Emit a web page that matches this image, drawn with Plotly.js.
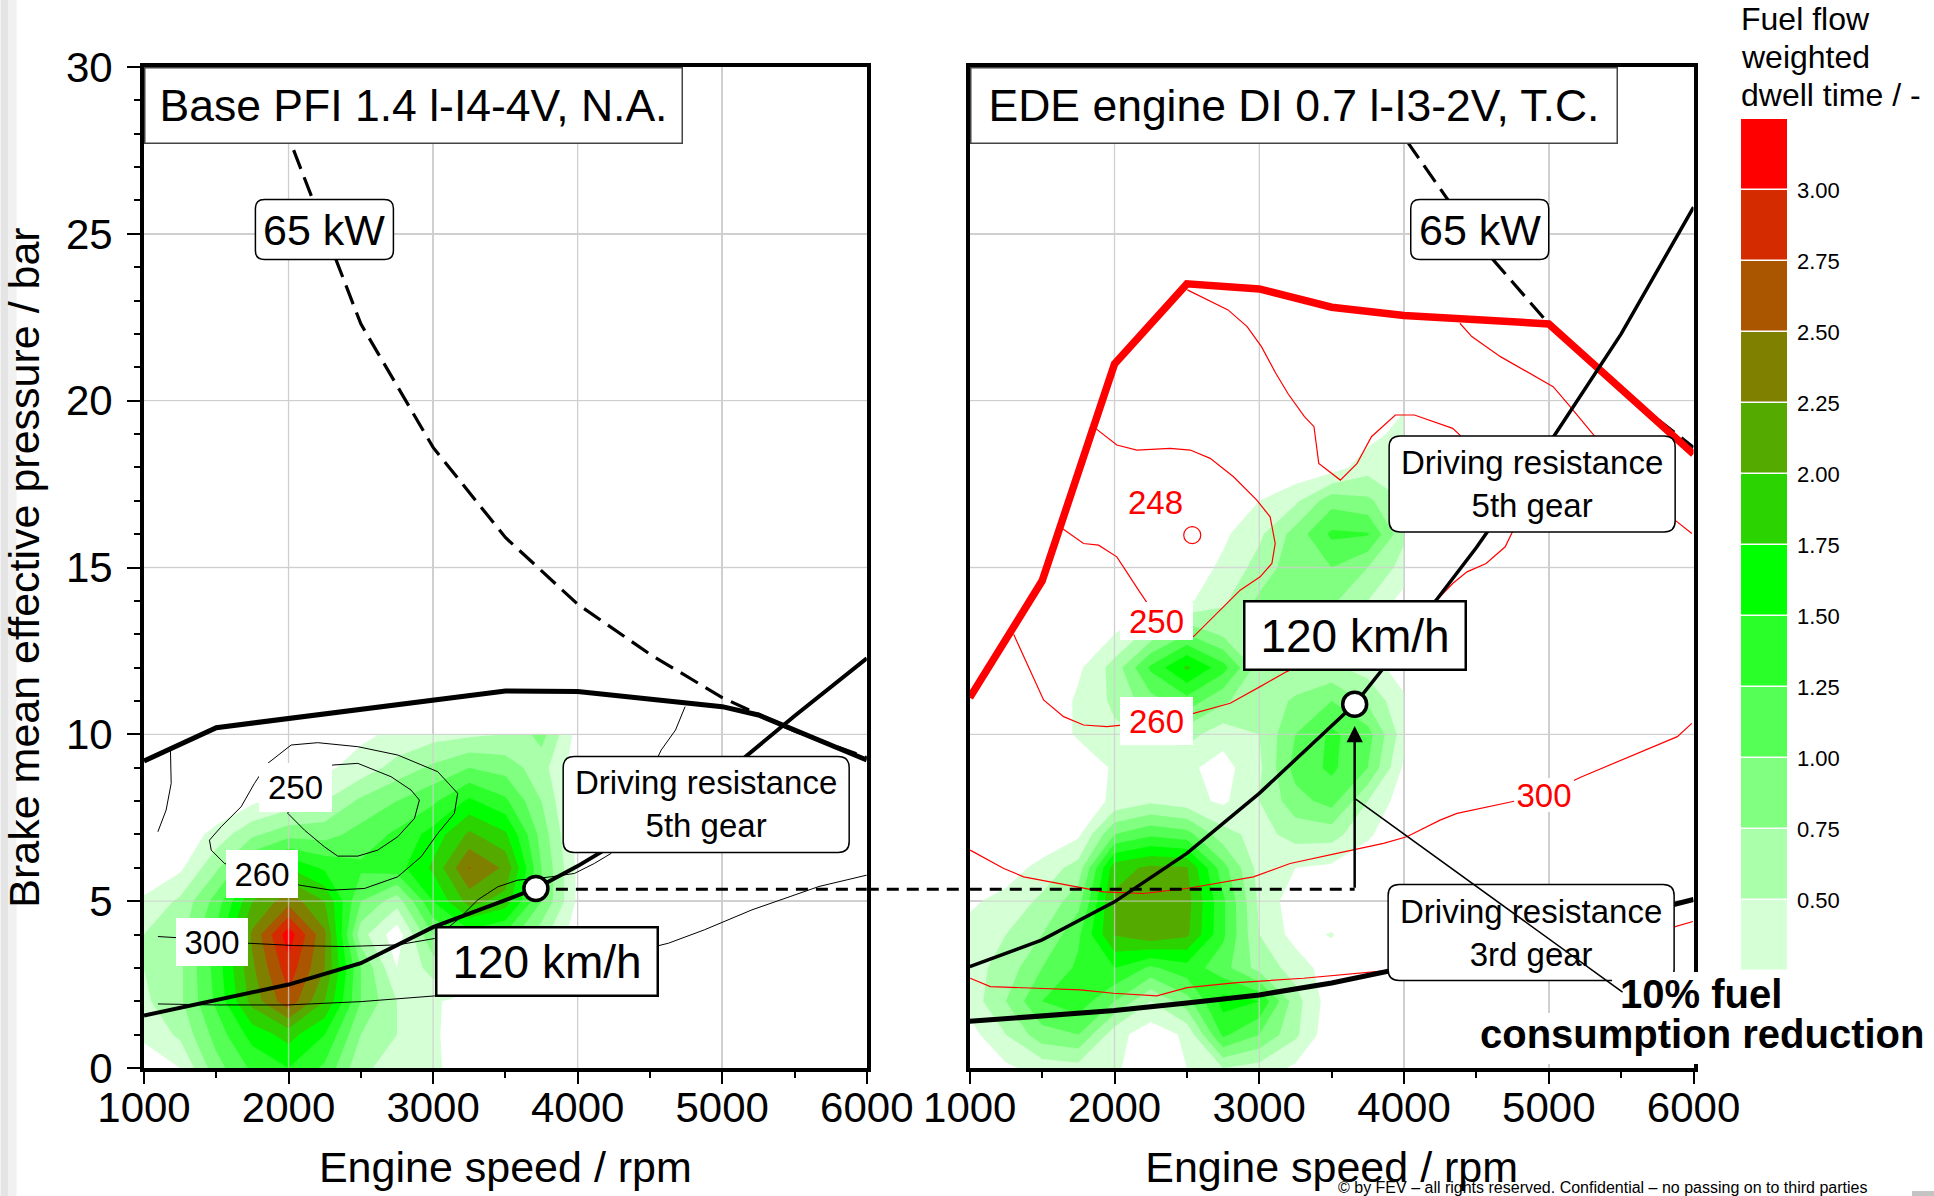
<!DOCTYPE html>
<html><head><meta charset="utf-8">
<script src="https://cdn.plot.ly/plotly-3.0.1.min.js"></script>
<style>html,body{margin:0;padding:0;background:#fff}#chart{width:1934px;height:1196px}</style>
</head><body><div id="chart"></div>
<script>
// ================= DATA =================
const SPEED_GRID = [1000,1250,1500,1750,2000,2250,2500,2750,3000,3250,3500,3750,4000];
const BASE_LOAD_GRID = [0,1,2,3,4,5,6,7,8,9,10];
const BASE_DWELL = [
  [0.1,0.25,0.9,1.3,1.5,1.2,0.55,0.4,0.3,0.1,0,0,0],
  [0.3,0.55,1.1,1.6,1.85,1.5,0.75,0.5,0.3,0.05,0,0,0],
  [0.45,0.7,1.3,2.1,2.68,2.0,1.0,0.5,0.3,0.1,0,0,0],
  [0.5,0.7,1.35,2.2,2.9,2.25,1.0,0.25,0.6,0.7,0.5,0.2,0],
  [0.5,0.65,1.3,2.3,3.15,2.3,0.6,0.1,1.0,1.4,1.2,0.6,0.1],
  [0.3,0.55,1.1,2.0,2.4,2.0,1.0,0.6,1.5,2.1,1.9,1.0,0.2],
  [0,0.2,0.7,1.3,1.75,1.45,1.3,1.4,1.8,2.52,2.2,1.0,0.2],
  [0,0.05,0.35,0.7,0.9,0.9,1.1,1.3,1.6,2.05,1.8,0.9,0.15],
  [0,0,0,0.2,0.35,0.5,0.8,1.0,1.2,1.55,1.3,0.75,0.1],
  [0,0,0,0,0.1,0.2,0.35,0.6,0.8,1.0,0.9,0.6,0.1],
  [0,0,0,0,0.05,0.15,0.2,0.3,0.4,0.45,0.5,0.85,0.15]
];
const EDE_LOAD_GRID = [0,1,2,3,4,5,6,7,8,9,10,11,12,13,14,15,16,17,18,19,20];
const EDE_DWELL = [
  [0,0.2,0.35,0.4,0.3,0.05,0.25,0.5,0.4,0.2,0,0,0],
  [0.15,0.5,0.9,1.0,0.35,0.1,0.3,1.3,1.0,0.55,0.05,0,0],
  [0.35,0.75,1.25,1.4,1.0,0.5,0.9,1.6,1.5,0.6,0.1,0,0],
  [0.4,0.6,1.0,1.3,1.5,1.2,1.4,1.1,0.65,0.4,0.1,0,0],
  [0.35,0.5,0.75,1.2,2.02,2.2,2.05,1.3,0.5,0.15,0.27,0,0],
  [0.2,0.35,0.55,0.9,2.05,2.2,2.1,1.3,0.45,0.1,0,0,0],
  [0,0.1,0.35,0.6,1.9,2.05,2.02,1.1,0.4,0.25,0.2,0.05,0],
  [0,0,0,0.2,1.0,1.2,1.1,0.6,0.4,0.6,0.6,0.3,0],
  [0,0,0,0.1,0.3,0.45,0.35,0.2,0.5,0.9,1.1,0.5,0.1],
  [0,0,0,0,0.3,0.35,0.3,0.15,0.45,1.1,1.3,1.0,0.2],
  [0,0,0,0.3,0.45,0.55,0.6,0.35,0.5,1.0,1.3,1.1,0.35],
  [0,0,0,0.3,0.55,0.9,1.15,0.8,0.55,0.8,1.0,0.7,0.3],
  [0,0,0,0.2,0.6,1.3,1.8,1.35,0.62,0.5,0.55,0.4,0.1],
  [0,0,0,0.1,0.25,0.6,1.0,0.7,0.55,0.55,0.6,0.4,0.1],
  [0,0,0,0,0.05,0.15,0.2,0.45,0.8,0.85,0.8,0.5,0.15],
  [0,0,0,0,0,0,0.1,0.3,0.6,0.9,1.0,0.75,0.4],
  [0,0,0,0,0,0,0,0.2,0.45,0.85,1.3,1.27,0.55],
  [0,0,0,0,0,0,0,0,0.25,0.45,0.9,0.8,0.5],
  [0,0,0,0,0,0,0,0,0,0.05,0.12,0.4,0.45],
  [0,0,0,0,0,0,0,0,0,0,0,0.15,0.35],
  [0,0,0,0,0,0,0,0,0,0,0,0.05,0.2]
];
const DWELL_LEVELS = [0.25,0.5,0.75,1.0,1.25,1.5,1.75,2.0,2.25,2.5,2.75,3.0,3.25];
const DWELL_COLORS = ['#d5ffd5','#aaffaa','#80ff80','#55ff55','#2aff2a','#00ff00','#2bd400','#55aa00','#808000','#aa5500','#d42b00','#ff0000'];
const DWELL_TICKS = [0.5,0.75,1.0,1.25,1.5,1.75,2.0,2.25,2.5,2.75,3.0];
const DWELL_TICK_TEXT = ['0.50','0.75','1.00','1.25','1.50','1.75','2.00','2.25','2.50','2.75','3.00'];
const GRID_RPM = [2000,3000,4000,5000];
const GRID_BAR = [5,10,15,20,25];

// Base engine lines
const BASE_FULL_RPM = [1000,1500,3500,4000,5000,5250,6000];
const BASE_FULL_BAR = [9.2,10.2,11.3,11.28,10.83,10.58,9.23];
const BASE_65KW_RPM = [1860,2000,2500,3000,3500,4000,4500,5000,5500,6000];
const BASE_65KW_BAR = [30,27.9,22.3,18.6,15.9,13.9,12.4,11.1,10.1,9.3];
const BASE_DR5_RPM = [1000,1500,2000,2500,3000,3500,3711,4000,4500,5000,5500,6000];
const BASE_DR5_BAR = [1.57,2.03,2.5,3.14,4.22,5.03,5.38,6.05,7.35,8.75,10.55,12.28];
const BASE_BSFC250_RPM = [2306,2479,2709,2847,2905,2871,2755,2617,2479,2340,2248,2110,1995,2031,2163,2306];
const BASE_BSFC250_BAR = [9.08,9.13,8.73,8.33,8.03,7.48,6.93,6.53,6.35,6.35,6.63,7.13,7.63,8.38,8.93,9.08];
const BASE_BSFC260_RPM = [1856,2018,2202,2479,2755,3032,3170,3147,3032,2917,2755,2525,2294,2075,1816,1557,1465,1453,1534,1672,1764,1856];
const BASE_BSFC260_BAR = [9.13,9.68,9.75,9.63,9.38,8.88,8.23,7.63,7.03,6.33,5.73,5.38,5.33,5.48,5.78,6.13,6.53,6.83,7.23,7.83,8.53,9.13];
const BASE_BSFC300_RPM = [1096,1250,1469,1718,2041,2387,2755,3009,3170,3309,3447,3585,3711,3816,3977,4115,4231,4413,4578,4677,4743];
const BASE_BSFC300_BAR = [3.94,3.9,3.74,3.74,3.67,3.64,3.69,3.88,4.44,5.04,5.43,5.63,5.68,5.73,5.83,6.13,6.43,8.03,9.53,10.13,10.83];
const BASE_BSFCLOW_RPM = [1096,1502,1995,2502,3009,3883,4628,4876,5206,5669,6000];
const BASE_BSFCLOW_BAR = [1.92,1.89,1.89,1.99,2.16,2.94,3.74,4.14,4.74,5.44,5.78];
const BASE_BSFCEDGE_RPM = [1183,1188,1153,1096];
const BASE_BSFCEDGE_BAR = [9.55,8.53,7.73,7.08];
const BASE_120_RPM = [3711];
const BASE_120_BAR = [5.38];

// EDE engine lines
const EDE_FULL_RPM = [1000,1500,2000,2500,3000,3500,4000,4500,5000,6000];
const EDE_FULL_BAR = [11.1,14.6,21.1,23.5,23.35,22.8,22.55,22.4,22.3,18.4];
const EDE_65KW_RPM = [3714,4000,4500,5000,5500,6000];
const EDE_65KW_BAR = [30,27.9,24.8,22.3,20.3,18.6];
const EDE_DR5_RPM = [1000,1500,2000,2500,3000,3250,3500,3659,4000,4500,5000,5500,6000];
const EDE_DR5_BAR = [3.04,3.84,4.98,6.43,8.23,9.23,10.25,10.9,12.76,15.6,18.7,22.0,25.8];
const EDE_DR3_RPM = [1000,1500,2000,2500,3000,3500,4000,4500,5000,5500,6000];
const EDE_DR3_BAR = [1.4,1.55,1.72,1.95,2.19,2.55,3.0,3.45,3.95,4.5,5.05];
const EDE_BSFC250_RPM = [1630,1786,1890,2016,2166,2293,2546,2615,2753,2868,3006,3087,3110,3075,2983,2822,2661,2523,2385,2154,2016,1860];
const EDE_BSFC250_BAR = [16.2,15.72,15.67,15.32,14.32,13.5,12.93,13.23,13.83,14.32,14.72,15.12,15.72,16.52,17.02,17.72,18.27,18.52,18.57,18.52,18.67,19.2];
const EDE_BSFC260_RPM = [1303,1406,1510,1648,1786,1947,2293,2546,2799,3006,3190,3700,4237,4336,4435,4567,4699,4749,4550,4386,4336,4072,3940,3775,3676,3560,3411,3378,3312,3200,3114,3015,2916,2784,2503];
const EDE_BSFC260_BAR = [13.0,12.03,11.03,10.53,10.28,10.23,10.38,10.63,10.93,11.43,11.88,13.0,14.07,14.52,14.87,15.12,15.62,16.07,17.5,18.97,19.17,19.57,19.57,18.92,18.12,17.62,18.12,19.22,19.52,20.2,20.82,21.62,22.22,22.72,23.32];
const EDE_BSFCTOP_RPM = [4386,4468,4666,4832,5030,5129,5311,5600,5872,5988];
const EDE_BSFCTOP_BAR = [22.32,21.92,21.32,20.92,20.42,19.92,18.97,17.5,16.42,16.02];
const EDE_BSFC300_RPM = [1003,1235,1372,1694,1924,2200,2500,2960,3213,3536,3858,4019,4249,4366,4709,4952,5228,5558,5888,5988];
const EDE_BSFC300_BAR = [6.53,5.98,5.73,5.48,5.28,5.23,5.38,5.73,6.13,6.43,6.73,6.93,7.43,7.63,7.95,8.17,8.73,9.33,9.93,10.33];
const EDE_BSFCLOW_RPM = [1003,1142,1464,1763,1993,2293,2500,2845,3306,3881,5867,5996];
const EDE_BSFCLOW_BAR = [2.69,2.44,2.39,2.34,2.24,2.16,2.41,2.56,2.69,2.92,4.23,4.39];
const EDE_BSFC248_RPM = [2537];
const EDE_BSFC248_BAR = [15.97];
const EDE_120_RPM = [3659];
const EDE_120_BAR = [10.9];

const CRUISE_BAR = 5.36;
const ARROW_TIP_BAR = 10.25;
const POINTER_START = [3659, 8.08];
const POINTER_END = [5520, 2.24];

// ================= LAYOUT GEOMETRY =================
const W = 1934, H = 1196;
const M = {l:143.5, r:94, t:67, b:128};
const PW = W - M.l - M.r, PH = H - M.t - M.b;
const px = v => (v - M.l) / PW;
const py = v => (H - M.b - v) / PH;
const DOM_X1 = [px(143.5), px(866.5)];
const DOM_X2 = [px(969.5), px(1693.5)];
const DOM_CB_X = [px(1741), px(1787)];
const DOM_CB_Y = [py(971), py(119)];

const FONT = 'Liberation Sans, Arial, Helvetica, sans-serif';

function line(x, y, xa, ya, color, width, dash) {
  return {type:'scatter', mode:'lines', x:x, y:y, xaxis:xa, yaxis:ya,
    line:{color:color, width:width, dash:dash||'solid', shape:'linear'},
    hoverinfo:'skip', showlegend:false, connectgaps:false};
}
function contour(z, yg, xa, ya) {
  const cs = [[0,'rgba(255,255,255,0)']].concat(DWELL_COLORS.map((c,i)=>[(i+1)/DWELL_COLORS.length, c]));
  return {type:'contour', x:SPEED_GRID, y:yg, z:z, xaxis:xa, yaxis:ya,
    autocontour:false,
    contours:{start:DWELL_LEVELS[0], end:DWELL_LEVELS[DWELL_LEVELS.length-2], size:DWELL_LEVELS[1]-DWELL_LEVELS[0], coloring:'fill', showlines:false},
    line:{width:0, smoothing:0}, colorscale:cs, showscale:false, hoverinfo:'skip'};
}
function gridOverlay(xa, ya) {
  const xs = [], ys = [];
  GRID_RPM.forEach(v => { xs.push(v, v, null); ys.push(0, 30, null); });
  GRID_BAR.forEach(v => { xs.push(1000, 6000, null); ys.push(v, v, null); });
  return line(xs, ys, xa, ya, 'rgba(205,205,205,0.75)', 1.4);
}
function marker(x, y, xa, ya) {
  return {type:'scatter', mode:'markers', x:x, y:y, xaxis:xa, yaxis:ya,
    marker:{symbol:'circle', size:24, color:'#fff', line:{color:'#000', width:3.5}},
    hoverinfo:'skip', showlegend:false, cliponaxis:false};
}

const traces = [
  contour(BASE_DWELL, BASE_LOAD_GRID, 'x', 'y'),
  contour(EDE_DWELL, EDE_LOAD_GRID, 'x2', 'y2'),
  gridOverlay('x','y'),
  gridOverlay('x2','y2'),
  line(BASE_BSFC250_RPM, BASE_BSFC250_BAR, 'x','y','#000',1),
  line(BASE_BSFC260_RPM, BASE_BSFC260_BAR, 'x','y','#000',1),
  line(BASE_BSFC300_RPM, BASE_BSFC300_BAR, 'x','y','#000',1),
  line(BASE_BSFCLOW_RPM, BASE_BSFCLOW_BAR, 'x','y','#000',1),
  line(BASE_BSFCEDGE_RPM, BASE_BSFCEDGE_BAR, 'x','y','#000',1),
  line(BASE_65KW_RPM, BASE_65KW_BAR, 'x','y','#000',3.2,'20px,9px'),
  line(BASE_FULL_RPM, BASE_FULL_BAR, 'x','y','#000',5),
  line(BASE_DR5_RPM, BASE_DR5_BAR, 'x','y','#000',4),
  line([BASE_120_RPM[0], 6000], [CRUISE_BAR, CRUISE_BAR], 'x','y','#000',3,'12px,8px'),
  marker(BASE_120_RPM, BASE_120_BAR, 'x','y'),
  line(EDE_BSFC250_RPM, EDE_BSFC250_BAR, 'x2','y2','#ff0000',1.2),
  line(EDE_BSFC260_RPM, EDE_BSFC260_BAR, 'x2','y2','#ff0000',1.2),
  line(EDE_BSFCTOP_RPM, EDE_BSFCTOP_BAR, 'x2','y2','#ff0000',1.2),
  line(EDE_BSFC300_RPM, EDE_BSFC300_BAR, 'x2','y2','#ff0000',1.2),
  line(EDE_BSFCLOW_RPM, EDE_BSFCLOW_BAR, 'x2','y2','#ff0000',1.2),
  {type:'scatter', mode:'markers', x:EDE_BSFC248_RPM, y:EDE_BSFC248_BAR, xaxis:'x2', yaxis:'y2',
   marker:{symbol:'circle-open', size:17, color:'#ff0000', line:{width:1.2}}, hoverinfo:'skip', showlegend:false},
  line(EDE_65KW_RPM, EDE_65KW_BAR, 'x2','y2','#000',3.2,'20px,9px'),
  line(EDE_FULL_RPM, EDE_FULL_BAR, 'x2','y2','#ff0000',7.5),
  line(EDE_DR5_RPM, EDE_DR5_BAR, 'x2','y2','#000',3.5),
  line(EDE_DR3_RPM, EDE_DR3_BAR, 'x2','y2','#000',5),
  line([1000, EDE_120_RPM[0]], [CRUISE_BAR, CRUISE_BAR], 'x2','y2','#000',3,'12px,8px'),
  marker(EDE_120_RPM, EDE_120_BAR, 'x2','y2'),
  {type:'heatmap', x:[0,1], y:DWELL_LEVELS, z:DWELL_COLORS.map((c,i)=>[i]),
   zmin:0, zmax:DWELL_COLORS.length-1, colorscale:DWELL_COLORS.map((c,i)=>[i/(DWELL_COLORS.length-1), c]),
   showscale:false, ygap:1.5, xaxis:'x3', yaxis:'y3', hoverinfo:'skip'}
];

const tickFont = {family:FONT, size:42, color:'#000'};
function xAxis(dom, anchor) {
  return {domain:dom, anchor:anchor, range:[1000,6000], tick0:1000, dtick:1000,
    ticks:'outside', ticklen:12, tickwidth:2, tickcolor:'#000', tickfont:tickFont, ticklabelstandoff:-12,
    showline:true, linewidth:4, linecolor:'#000', mirror:true,
    showgrid:true, gridcolor:'#d2d2d2', gridwidth:1.5, zeroline:false,
    minor:{tick0:1000, dtick:500, ticks:'outside', ticklen:6, tickwidth:2, tickcolor:'#000', showgrid:false},
    title:{text:'Engine speed / rpm', font:{family:FONT, size:43, color:'#000'}, standoff:22},
    fixedrange:true, automargin:false};
}
function roundBox(xref, yref, x, y, w, h, r) {
  const a = w/2, b = h/2;
  const p = `M ${-a+r},${-b} L ${a-r},${-b} Q ${a},${-b} ${a},${-b+r} L ${a},${b-r} Q ${a},${b} ${a-r},${b} L ${-a+r},${b} Q ${-a},${b} ${-a},${b-r} L ${-a},${-b+r} Q ${-a},${-b} ${-a+r},${-b} Z`;
  return {type:'path', xref:xref, yref:yref, xsizemode:'pixel', ysizemode:'pixel', xanchor:x, yanchor:y,
    path:p, fillcolor:'#fff', line:{color:'#000', width:1.5}, layer:'above'};
}
const layout = {
  width:W, height:H, margin:M, paper_bgcolor:'#fff', plot_bgcolor:'rgba(0,0,0,0)',
  font:{family:FONT, color:'#000'}, showlegend:false,
  xaxis:xAxis(DOM_X1, 'y'),
  xaxis2:xAxis(DOM_X2, 'y2'),
  yaxis:{domain:[0,1], anchor:'x', range:[0,30], tick0:0, dtick:5,
    ticks:'outside', ticklen:13, tickwidth:2, tickcolor:'#000', tickfont:tickFont, ticklabelstandoff:6,
    showline:true, linewidth:4, linecolor:'#000', mirror:true,
    showgrid:true, gridcolor:'#d2d2d2', gridwidth:1.5, zeroline:false,
    minor:{tick0:0, dtick:1, ticks:'outside', ticklen:6, tickwidth:2, tickcolor:'#000', showgrid:false},
    title:{text:'Brake mean effective pressure / bar', font:{family:FONT, size:43, color:'#000'}, standoff:16},
    fixedrange:true, automargin:false},
  yaxis2:{domain:[0,1], anchor:'x2', range:[0,30], dtick:5, showticklabels:false, ticks:'',
    showline:true, linewidth:4, linecolor:'#000', mirror:true,
    showgrid:true, gridcolor:'#d2d2d2', gridwidth:1.5, zeroline:false, fixedrange:true},
  xaxis3:{domain:DOM_CB_X, anchor:'y3', range:[0,1], visible:false, fixedrange:true},
  yaxis3:{domain:DOM_CB_Y, anchor:'x3', side:'right', range:[DWELL_LEVELS[0], DWELL_LEVELS[DWELL_LEVELS.length-1]],
    tickvals:DWELL_TICKS, ticktext:DWELL_TICK_TEXT, ticks:'', showline:false, showgrid:false, zeroline:false,
    tickfont:{family:FONT, size:22, color:'#000'}, ticklabelstandoff:9, fixedrange:true},
  shapes:[
    {type:'rect', xref:'paper', yref:'paper', x0:px(0), x1:px(8), y0:py(H), y1:py(0), fillcolor:'#e4e4e4', line:{width:0}, layer:'below'},
    {type:'rect', xref:'paper', yref:'paper', x0:px(8), x1:px(16), y0:py(H), y1:py(0), fillcolor:'#f1f1f1', line:{width:0}, layer:'below'},
    {type:'rect', xref:'paper', yref:'paper', x0:px(1912), x1:px(W), y0:py(H), y1:py(1191), fillcolor:'#c4c4c4', line:{width:0}, layer:'below'},
    {type:'line', xref:'paper', yref:'y', x0:DOM_X1[1], x1:DOM_X2[0], y0:CRUISE_BAR, y1:CRUISE_BAR, line:{color:'#000', width:3, dash:'12px,8px'}},
    roundBox('x','y', 2248, 25.13, 138, 60, 9),
    roundBox('x2','y2', 4523, 25.13, 138, 60, 9),
    roundBox('x','y', 4889, 7.90, 286, 96, 11),
    roundBox('x2','y2', 4885, 17.5, 286, 96, 11),
    roundBox('x2','y2', 4878, 4.06, 286, 96, 11),
    // white backing of the "10% fuel consumption reduction" note
    {type:'path', xref:'paper', yref:'paper',
     path:`M ${px(1612)},${py(972)} L ${px(1790)},${py(972)} L ${px(1790)},${py(1013)} L ${px(1930)},${py(1013)} L ${px(1930)},${py(1064)} L ${px(1462)},${py(1064)} L ${px(1462)},${py(1013)} L ${px(1612)},${py(1013)} Z`,
     fillcolor:'#fff', line:{width:0}, layer:'above'}
  ],
  annotations:[]
};

function box(text, x, y, xref, yref, o) {
  o = o || {};
  return Object.assign({text:text, x:x, y:y, xref:xref, yref:yref, showarrow:false,
    xanchor:'center', yanchor:'middle', align:'center',
    font:{family:FONT, size:o.size||33, color:o.color||'#000'},
    bgcolor:o.bg===undefined?'#fff':o.bg, bordercolor:o.bc||'rgba(0,0,0,0)', borderwidth:o.bw||0, borderpad:o.pad===undefined?0:o.pad},
    o.w?{width:o.w}:{}, o.h?{height:o.h}:{}, o.extra||{});
}
const CLEAR = 'rgba(0,0,0,0)';
const A = layout.annotations;
A.push(box('Base PFI 1.4 l-I4-4V, N.A.', 0, 1, 'x domain', 'y domain', {size:44.5, bc:'#444', bw:1.5, w:536, h:74, extra:{xanchor:'left', yanchor:'top'}}));
A.push(box('EDE engine DI 0.7 l-I3-2V, T.C.', 0, 1, 'x2 domain', 'y2 domain', {size:44.5, bc:'#444', bw:1.5, w:645, h:74, extra:{xanchor:'left', yanchor:'top'}}));
A.push(box('65 kW', 2248, 25.13, 'x', 'y', {size:43, bg:CLEAR}));
A.push(box('65 kW', 4523, 25.13, 'x2', 'y2', {size:43, bg:CLEAR}));
A.push(box('Driving resistance<br>5th gear', 4889, 7.90, 'x', 'y', {size:33, bg:CLEAR}));
A.push(box('120 km/h', 3787, 3.20, 'x', 'y', {size:46, bc:'#000', bw:2.5, w:219, h:66}));
A.push(box('250', 2051, 8.41, 'x', 'y', {size:33, w:73, h:49}));
A.push(box('260', 1816, 5.81, 'x', 'y', {size:33, w:72, h:48}));
A.push(box('300', 1470, 3.79, 'x', 'y', {size:33, w:72, h:48}));
A.push(box('Driving resistance<br>5th gear', 4885, 17.5, 'x2', 'y2', {size:33, bg:CLEAR}));
A.push(box('120 km/h', 3664, 12.97, 'x2', 'y2', {size:46, bc:'#000', bw:2.5, w:219, h:66}));
A.push(box('248', 2286, 16.94, 'x2', 'y2', {size:33, color:'#ff0000', bg:CLEAR}));
A.push(box('250', 2293, 13.40, 'x2', 'y2', {size:33, color:'#ff0000', w:73, h:38}));
A.push(box('260', 2293, 10.40, 'x2', 'y2', {size:33, color:'#ff0000', w:73, h:48}));
A.push(box('300', 4968, 8.18, 'x2', 'y2', {size:33, color:'#ff0000', w:60, h:34}));
A.push(box('Driving resistance<br>3rd gear', 4878, 4.06, 'x2', 'y2', {size:33, bg:CLEAR}));
A.push(box('<b>10% fuel</b>', px(1701), py(994), 'paper', 'paper', {size:40, bg:CLEAR}));
A.push(box('<b>consumption reduction</b>', px(1702), py(1034), 'paper', 'paper', {size:40, bg:CLEAR}));
A.push({xref:'x2', yref:'y2', axref:'x2', ayref:'y2', x:EDE_120_RPM[0], y:ARROW_TIP_BAR, ax:EDE_120_RPM[0], ay:CRUISE_BAR,
  text:'', showarrow:true, arrowhead:2, arrowsize:1.3, arrowwidth:2.5, arrowcolor:'#000', standoff:0, startstandoff:0});
A.push({xref:'x2', yref:'y2', axref:'x2', ayref:'y2', x:POINTER_START[0], y:POINTER_START[1], ax:POINTER_END[0], ay:POINTER_END[1],
  text:'', showarrow:true, arrowhead:0, arrowwidth:1.6, arrowcolor:'#000', standoff:0, startstandoff:0});
['Fuel flow','weighted','dwell time / -'].forEach((t,i)=>{
  A.push(box(t, px(1741), py(19 + i*38), 'paper', 'paper', {size:32, bg:CLEAR, extra:{xanchor:'left', align:'left'}}));
});
A.push(box('© by FEV – all rights reserved. Confidential – no passing on to third parties', px(1602), py(1187), 'paper', 'paper',
  {size:16, bg:CLEAR}));

Plotly.newPlot('chart', traces, layout, {displayModeBar:false, staticPlot:true});
</script>
</body></html>
